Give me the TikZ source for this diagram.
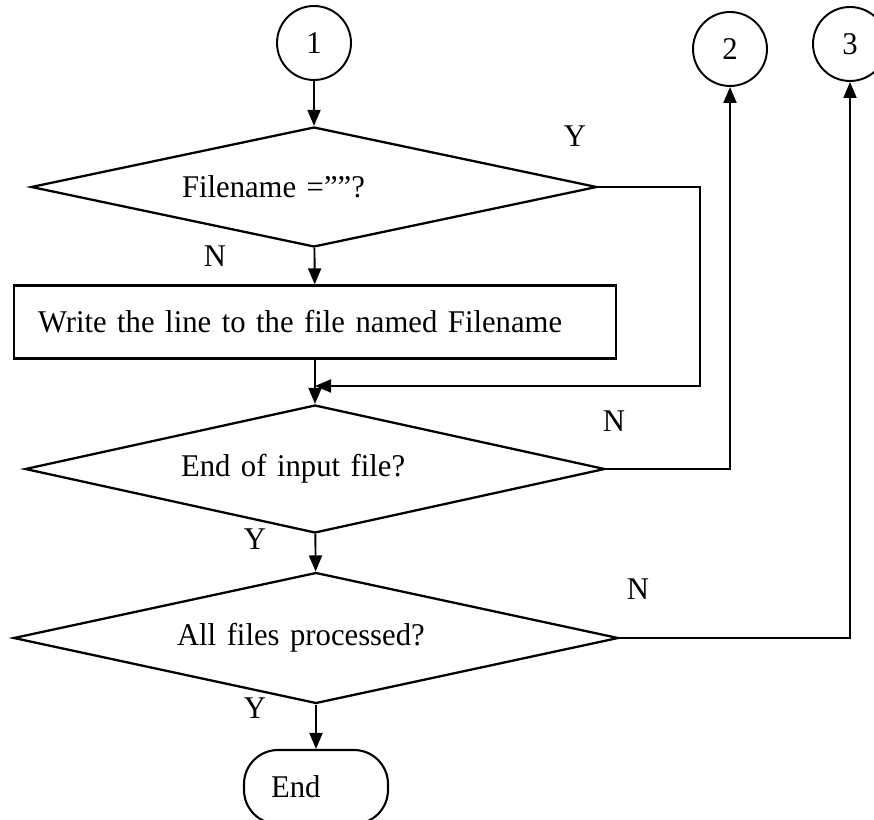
\documentclass[tikz,border=0pt]{standalone}
\usepackage{fontspec}
\setmainfont[FakeStretch=0.97]{Liberation Serif}
\usetikzlibrary{shapes.geometric,arrows.meta}

\begin{document}
\begin{tikzpicture}[x=0.02cm, y=-0.02cm,
    every node/.style={font=\fontsize{18}{22}\selectfont},
    connector/.style={circle, draw, line width=1.1pt, minimum size=1.48cm, inner sep=0pt},
    decision/.style={diamond, draw, line width=1.3pt, inner sep=0pt, align=left},
    process/.style={draw, line width=1.3pt, align=left},
    terminal/.style={draw, line width=1.2pt, rounded corners=0.68cm, align=left},
    flow/.style={-{Triangle[length=0.32cm,width=0.26cm]}, line width=1.1pt}]
    \clip (0,0) rectangle (874,820);

    % Connettori
    \node[connector] (c1) at (314,43) {1};
    \node[connector] (c2) at (730,49) {2};
    \node[connector] (c3) at (850,44) {3};

    % Blocchi del flusso
    \node[decision, aspect=4.72, minimum width=11.32cm, minimum height=2.4cm, text width=5.28cm] (d1) at (314,187) {Filename =””?};
    \node[process, minimum width=12.04cm, minimum height=1.46cm, text width=11.08cm] (write) at (315,322) {Write the line to the file named Filename};
    \node[decision, aspect=4.53, minimum width=11.6cm, minimum height=2.56cm, text width=5.36cm] (d2) at (315,469) {End of input file?};
    \node[decision, aspect=4.62, minimum width=12.1cm, minimum height=2.62cm, text width=5.56cm] (d3) at (316,638) {All files processed?};
    \node[terminal, minimum width=2.88cm, minimum height=1.48cm, text width=1.8cm, inner xsep=0.54cm] (stop) at (316,787) {End};

    % Etichette Y/N
    \node (yes1) at (575,136) {Y};
    \node (no1) at (215,256) {N};
    \node (no2) at (614,421) {N};
    \node (yes2) at (255,539) {Y};
    \node (no3) at (638,589) {N};
    \node (yes3) at (255,708) {Y};

    % Frecce
    \coordinate (loop1) at (700,386);
    \coordinate (merge1) at (315,386);
    \draw[flow] (c1) -- (d1);
    \draw[flow] (d1) -- (write);
    \draw[flow] (write) -- (d2);
    \draw[flow] (d1.east) -| (loop1) -- (merge1);
    \draw[flow] (d2.east) -| (c2.south);
    \draw[flow] (d2) -- (d3);
    \draw[flow] (d3.east) -| (c3.south);
    \draw[flow] (d3) -- (stop);
\end{tikzpicture}
\end{document}
